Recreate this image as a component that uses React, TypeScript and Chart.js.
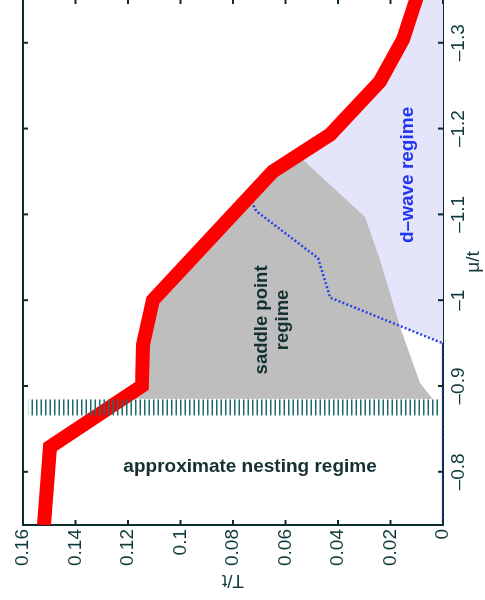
import React, { useEffect, useRef } from 'react';
import { Chart, registerables } from 'chart.js';

Chart.register(...registerables);

// ---- data (mu/t on the x scale, T/t on the y scale of the unrotated figure) ----
const MU_RANGE = [-1.351, -0.738];
const T_RANGE = [0, 0.16];
const MU_TICKS = [-0.8, -0.9, -1.0, -1.1, -1.2, -1.3];
const T_TICKS = [0, 0.02, 0.04, 0.06, 0.08, 0.1, 0.12, 0.14, 0.16];

// thick red Tc line
const RED_MU = [-0.738, -0.829, -0.9, -0.948, -1.0, -1.15, -1.193, -1.255, -1.304, -1.35, -1.36];
const RED_T = [0.152, 0.1497, 0.1147, 0.1143, 0.1105, 0.0648, 0.043, 0.024, 0.0152, 0.0103, 0.0093];

// blue dotted d-wave line
const DW_MU = [-1.352, -1.3, -1.255, -1.193, -1.15, -1.119, -1.104, -1.049, -1.003, -0.951, -0.95, -0.738];
const DW_T = [0.0122, 0.0168, 0.0245, 0.043, 0.0648, 0.0735, 0.0712, 0.0476, 0.043, 0.0011, 0, 0];

// grey saddle point region outline
const SP_MU = [-0.885, -0.9, -0.948, -1.0, -1.15, -1.1635, -1.097, -1.047, -0.969, -0.9035, -0.886, -0.885, -0.885];
const SP_T = [0.1221, 0.1147, 0.1143, 0.1105, 0.0648, 0.0533, 0.0297, 0.024, 0.0164, 0.0088, 0.0042, 0.004, 0.1221];

// lavender d-wave region outline
const DR_MU = [-1.36, -1.35, -1.304, -1.255, -1.193, -1.15, -1.119, -1.104, -1.049, -1.003, -0.951, -0.95, -1.36, -1.36];
const DR_T = [0.0093, 0.0103, 0.0152, 0.024, 0.043, 0.0648, 0.0742, 0.0712, 0.0476, 0.043, 0.0011, 0, 0, 0.0093];

// hatched boundary line
const HB_MU = [-0.875, -0.875];
const HB_T = [0.0019, 0.158];

// region labels
const LABEL_TEXT = ['approximate nesting regime', 'saddle point', 'regime', 'd\u2013wave regime'];
const LABEL_MU = [-0.8055, -0.977, -0.977, -1.146];
const LABEL_T = [0.0735, 0.069, 0.061, 0.0133];

const FONT = "'Liberation Sans', Arial, Helvetica, sans-serif";
const AXIS = '#0b2d2d';
const TICK_COLOR = '#0f3a3a';

const pts = (mu: number[], t: number[]) => mu.map((m, i) => ({ x: m, y: t[i] }));
const fmtT = (v: number) => (v === 0 ? '0' : String(+v.toFixed(2)));
const fmtMu = (v: number) => '\u2013' + String(+Math.abs(v).toFixed(2));

const W = 603;
const H = 485;

export default function App() {
  const ref = useRef<HTMLCanvasElement | null>(null);

  useEffect(() => {
    const canvas = ref.current;
    if (!canvas) return;

    const frame = {
      id: 'frame',
      afterDatasetsDraw(chart: any) {
        const { ctx, chartArea, scales } = chart;
        const { left, right, top, bottom } = chartArea;
        const x = scales.x;
        const y = scales.y;
        ctx.save();
        ctx.strokeStyle = AXIS;
        ctx.lineWidth = 2;
        ctx.beginPath();
        ctx.moveTo(left, top);
        ctx.lineTo(right, top);
        ctx.lineTo(right, bottom);
        ctx.stroke();
        ctx.beginPath();
        for (const v of MU_TICKS) {
          const px = x.getPixelForValue(v);
          ctx.moveTo(px, bottom);
          ctx.lineTo(px, bottom - 5);
          ctx.moveTo(px, top);
          ctx.lineTo(px, top + 5);
        }
        for (const v of T_TICKS) {
          const py = y.getPixelForValue(v);
          ctx.moveTo(left, py);
          ctx.lineTo(left + 5, py);
          ctx.moveTo(right, py);
          ctx.lineTo(right - 5, py);
        }
        ctx.stroke();

        // region labels
        ctx.textAlign = 'center';
        ctx.textBaseline = 'middle';
        LABEL_TEXT.forEach((txt, i) => {
          const px = x.getPixelForValue(LABEL_MU[i]);
          const py = y.getPixelForValue(LABEL_T[i]);
          ctx.save();
          ctx.translate(px, py);
          if (i === 0) {
            ctx.rotate(Math.PI / 2);
            ctx.fillStyle = '#153030';
            ctx.font = `bold 19px ${FONT}`;
          } else if (i === 3) {
            ctx.fillStyle = '#2236ee';
            ctx.font = `bold 19px ${FONT}`;
          } else {
            ctx.fillStyle = '#153030';
            ctx.font = `bold 18.5px ${FONT}`;
          }
          ctx.fillText(txt, 0, 0);
          ctx.restore();
        });
        ctx.restore();
      },
    };

    const chart = new Chart(canvas, {
      type: 'scatter',
      data: {
        datasets: [
          {
            label: 'boundary',
            data: pts(HB_MU, HB_T),
            showLine: true,
            borderColor: '#1f6b6b',
            borderWidth: 16,
            borderDash: [1.5, 3],
            borderCapStyle: 'butt',
            pointRadius: 0,
            order: 0,
            clip: 0,
          },
          {
            label: 'Tc',
            data: pts(RED_MU, RED_T),
            showLine: true,
            borderColor: '#ff0000',
            borderWidth: 14,
            borderJoinStyle: 'miter',
            borderCapStyle: 'butt',
            pointRadius: 0,
            order: 1,
            clip: 0,
          },
          {
            label: 'd-wave',
            data: pts(DW_MU, DW_T),
            showLine: true,
            borderColor: '#2b3fe6',
            borderWidth: 2.5,
            borderDash: [2, 2.2],
            pointRadius: 0,
            order: 2,
            clip: 0,
          },
          {
            label: 'saddle point regime',
            data: pts(SP_MU, SP_T),
            showLine: true,
            borderWidth: 0,
            borderColor: 'rgba(0,0,0,0)',
            backgroundColor: '#bebebe',
            fill: 'shape',
            pointRadius: 0,
            order: 3,
            clip: 0,
          },
          {
            label: 'd-wave regime',
            data: pts(DR_MU, DR_T),
            showLine: true,
            borderWidth: 0,
            borderColor: 'rgba(0,0,0,0)',
            backgroundColor: '#e4e4fa',
            fill: 'shape',
            pointRadius: 0,
            order: 4,
            clip: 0,
          },
        ],
      },
      options: {
        responsive: false,
        animation: false,
        events: [],
        layout: { padding: { top: 23, right: 0, left: 0, bottom: 0 } },
        plugins: { legend: { display: false }, tooltip: { enabled: false } },
        scales: {
          x: {
            type: 'linear',
            position: 'bottom',
            reverse: true,
            min: MU_RANGE[0],
            max: MU_RANGE[1],
            afterBuildTicks: (s: any) => {
              s.ticks = MU_TICKS.map((v) => ({ value: v }));
            },
            afterFit: (s: any) => {
              s.height = 42;
            },
            grid: { display: false, drawTicks: false },
            border: { display: true, color: AXIS, width: 2 },
            ticks: {
              autoSkip: false,
              maxRotation: 0,
              minRotation: 0,
              padding: 4,
              color: TICK_COLOR,
              font: { family: FONT, size: 19 },
              callback: (v: any) => fmtMu(Number(v)),
            },
            title: {
              display: true,
              text: '\u03bc/t',
              color: TICK_COLOR,
              font: { family: FONT, size: 19 },
              padding: { top: 0, bottom: 0 },
            },
          },
          y: {
            type: 'linear',
            position: 'left',
            min: T_RANGE[0],
            max: T_RANGE[1],
            afterBuildTicks: (s: any) => {
              s.ticks = T_TICKS.map((v) => ({ value: v }));
            },
            afterFit: (s: any) => {
              s.width = 77;
            },
            grid: { display: false, drawTicks: false },
            border: { display: true, color: AXIS, width: 2 },
            ticks: {
              autoSkip: false,
              padding: 4,
              color: TICK_COLOR,
              font: { family: FONT, size: 19 },
              callback: (v: any) => fmtT(Number(v)),
            },
            title: {
              display: true,
              text: 'T/t',
              color: TICK_COLOR,
              font: { family: FONT, size: 19 },
              padding: { top: 10, bottom: 0 },
            },
          },
        },
      },
      plugins: [frame],
    } as any);

    return () => chart.destroy();
  }, []);

  return (
    <div
      style={{
        position: 'fixed',
        left: 0,
        top: 0,
        width: 485,
        height: 600,
        overflow: 'hidden',
        background: '#ffffff',
      }}
    >
      <div
        style={{
          position: 'absolute',
          left: 0,
          top: 0,
          width: W,
          height: H,
          transformOrigin: '0 0',
          transform: `translate(0px, ${W - 1}px) rotate(-90deg)`,
        }}
      >
        <canvas ref={ref} width={W} height={H} style={{ width: W, height: H, display: 'block' }} />
      </div>
    </div>
  );
}
